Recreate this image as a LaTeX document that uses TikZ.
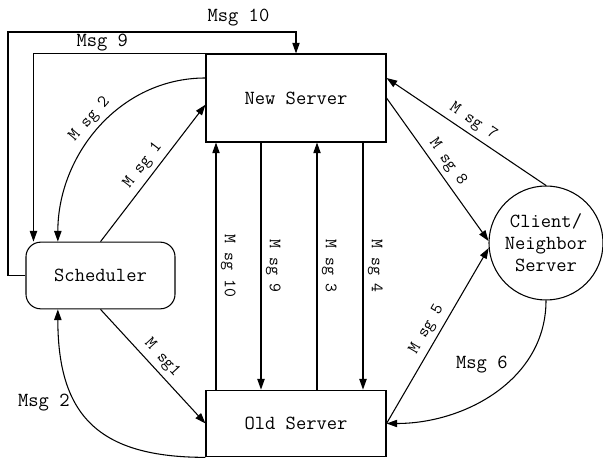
\documentclass[tikz,border=0pt]{standalone}
\usetikzlibrary{arrows.meta}

\begin{document}
\begin{tikzpicture}[x=0.75pt, y=0.75pt,
  >={Triangle[length=8pt,width=5.5pt]},
  every node/.style={font=\ttfamily\fontsize{15}{16.5}\selectfont},
  box/.style={draw, line width=0.8pt, inner sep=0pt},
  msg/.style={draw, line width=0.8pt, ->},
  lbl/.style={font=\ttfamily\fontsize{13}{14}\selectfont},
  vlbl/.style={lbl, rotate=-90, anchor=south}]

\useasboundingbox (0,0) rectangle (603,460);

% servers and scheduler
\node[box, minimum width=135pt, minimum height=66pt] (newsrv) at (296,362) {New Server};
\node[box, minimum width=135pt, minimum height=50pt] (oldsrv) at (296,36.5) {Old Server};
\node[box, rounded corners=11pt, minimum width=111.75pt, minimum height=50pt] (sched) at (100.5,184.5) {Scheduler};
\node[box, circle, minimum size=85.5pt, align=center] (client) at (546,217) {Client/\\Neighbor\\Server};

\coordinate (c10) at (8,428);

\draw[msg] (sched.north) -- node[lbl, sloped, above]{M sg 1} ([yshift=-5pt]newsrv.west);
\draw[msg] ([yshift=15pt]newsrv.west) to[out=180, in=90] node[lbl, sloped, above]{M sg 2} ([xshift=-32pt]sched.north);
\draw[msg] (newsrv.north west) -| node[pos=0.3, above=-2pt]{Msg 9} ([xshift=6pt]sched.north west);
\draw[msg] (sched.west) -| (c10) -- node[pos=0.8, above=1pt]{Msg 10} (c10 -| newsrv.north) -- (newsrv.north);
\draw[msg] (sched.south) -- node[lbl, sloped, above]{M sg1} (oldsrv.west);
\draw[msg] (oldsrv.south west) to[out=180, in=-90, looseness=1.3] node[pos=0.63, left=1pt]{Msg 2} ([xshift=-32pt]sched.south);

% between the two servers
\draw[msg] ([xshift=-60pt]oldsrv.north) -- node[vlbl]{M sg 10} ([xshift=-60pt]newsrv.south);
\draw[msg] ([xshift=-26.25pt]newsrv.south) -- node[vlbl]{M sg 9} ([xshift=-26.25pt]oldsrv.north);
\draw[msg] ([xshift=15.75pt]oldsrv.north) -- node[vlbl]{M sg 3} ([xshift=15.75pt]newsrv.south);
\draw[msg] ([xshift=50.25pt]newsrv.south) -- node[vlbl]{M sg 4} ([xshift=50.25pt]oldsrv.north);

% client side
\draw[msg] (client.north) -- node[lbl, sloped, above]{M sg 7} ([yshift=15pt]newsrv.east);
\draw[msg] (newsrv.east) -- node[lbl, sloped, above]{M sg 8} (client.178);
\draw[msg] (oldsrv.east) -- node[lbl, sloped, above]{M sg 5} (client.185);
\draw[msg] (client.south) to[out=-90, in=0] node[pos=0.4, above left]{Msg 6} (oldsrv.east);
\end{tikzpicture}
\end{document}
